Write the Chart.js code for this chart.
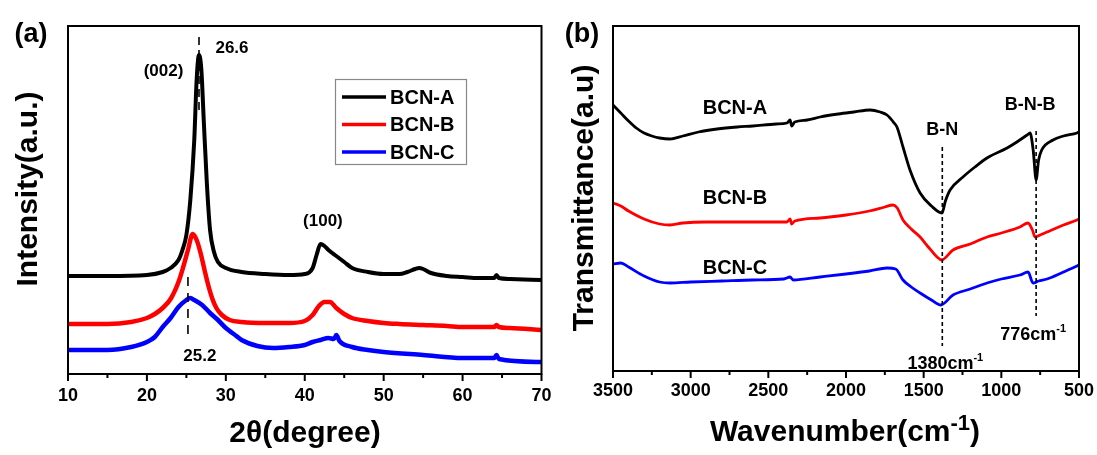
<!DOCTYPE html>
<html>
<head>
<meta charset="utf-8">
<script src="https://cdn.jsdelivr.net/npm/chart.js@4.4.1/dist/chart.umd.min.js"></script>
<style>
  html, body { margin: 0; padding: 0; background: #fff; }
  #wrap { position: relative; width: 1097px; height: 455px; overflow: hidden; }
  canvas { position: absolute; top: 0; }
</style>
</head>
<body>
<div id="wrap">
  <canvas id="xrd" width="560" height="455" style="left:0px"></canvas>
  <canvas id="ftir" width="549" height="455" style="left:548px"></canvas>
</div>
<script>
// ---------- XRD patterns, 2θ (degree) vs intensity (a.u.) ----------
const xrdA_theta = [10, 15, 20, 22, 23, 24, 24.5, 25, 25.5, 26, 26.3, 26.6, 26.9, 27.2, 27.6, 28, 28.5, 29, 30, 32, 35, 38, 40, 41, 41.5, 42, 42.5, 43, 44, 45, 46, 48, 50, 52, 53, 54, 54.5, 55, 56, 58, 60, 62, 64, 64.3, 64.6, 66, 70];
const xrdA_int   = [98, 98, 99, 102, 106, 114, 124, 139, 174, 234, 294, 319, 304, 254, 190, 144, 122, 112, 106, 102, 100, 99, 100, 106, 119, 130, 128, 124, 118, 112, 106, 102, 100, 100, 102, 105, 106, 105, 101, 98, 97, 96, 96, 99, 96, 95, 94];

const xrdB_theta = [10, 15, 18, 20, 21, 22, 23, 24, 24.6, 25.2, 25.8, 26.3, 26.8, 27.3, 27.8, 28.3, 28.8, 29.5, 30.5, 32, 35, 38, 40, 41, 41.8, 42.5, 43.2, 44, 45, 46, 48, 50, 52, 55, 58, 60, 64, 64.3, 64.6, 66, 70];
const xrdB_int   = [50, 50, 52, 56, 60, 66, 75, 92, 107, 124, 140, 134, 121, 104, 88, 75, 66, 59, 54, 52, 51, 51, 53, 59, 68, 72, 72, 66, 60, 56, 53, 51, 50, 49, 48, 47, 47, 49, 47, 46, 44];

const xrdC_theta = [10, 15, 18, 20, 21, 22, 23, 24, 25, 25.5, 26, 27, 28, 29, 30, 31, 32, 34, 36, 38, 40, 41, 42, 43, 43.7, 44, 44.4, 46, 48, 50, 55, 60, 64, 64.3, 64.6, 70];
const xrdC_int   = [24, 24, 27, 32, 37, 47, 56, 67, 74, 76, 74, 69, 61, 54, 46, 40, 34, 28, 26, 27, 29, 32, 34, 36, 35, 39, 33, 27, 24, 22, 19, 16, 16, 19, 15, 12];

const xrdTicks      = [10, 20, 30, 40, 50, 60, 70];
const xrdMinorTicks = [15, 25, 35, 45, 55, 65];
const peak002_A = 26.6;   // (002) position for BCN-A
const peak002_C = 25.2;   // (002) position for BCN-C

// ---------- FTIR spectra, wavenumber (cm-1) vs transmittance (a.u.) ----------
const ftirA_wn = [3500, 3450, 3400, 3350, 3300, 3250, 3200, 3133, 3050, 2950, 2830, 2700, 2600, 2450, 2380, 2360, 2350, 2330, 2250, 2167, 2050, 1950, 1845, 1780, 1736, 1690, 1672, 1633, 1588, 1523, 1450, 1382, 1360, 1330, 1247, 1170, 1092, 963, 900, 834, 815, 795, 776, 760, 740, 667, 600, 513, 500];
const ftirA_tr = [266, 258, 250, 243, 238, 235, 233, 232, 235, 239, 242, 244, 245, 247, 248, 251, 245, 249, 251, 254, 257, 259, 261, 259, 256, 248, 244, 224, 201, 178, 165, 158, 170, 181, 194, 204, 213, 223, 229, 236, 238, 221, 191, 211, 221, 231, 235, 238, 239];

const ftirB_wn = [3500, 3450, 3400, 3300, 3200, 3133, 3050, 2900, 2700, 2500, 2380, 2360, 2350, 2330, 2167, 2000, 1850, 1750, 1697, 1670, 1633, 1580, 1523, 1470, 1414, 1385, 1311, 1200, 1092, 1000, 880, 828, 800, 783, 750, 706, 600, 513, 500];
const ftirB_tr = [168, 165, 160, 152, 147, 146, 148, 149, 149, 149, 149, 152, 147, 150, 153, 156, 160, 164, 166, 163, 151, 142, 134, 124, 114, 111, 121, 127, 134, 138, 144, 148, 141, 134, 136, 139, 146, 151, 152];

const ftirC_wn = [3500, 3450, 3400, 3300, 3200, 3133, 3000, 2800, 2600, 2400, 2360, 2340, 2167, 2000, 1850, 1736, 1680, 1633, 1580, 1523, 1450, 1390, 1311, 1200, 1092, 1000, 880, 828, 796, 760, 706, 600, 513, 500];
const ftirC_tr = [107, 108, 104, 95, 89, 88, 89, 90, 91, 92, 94, 91, 94, 97, 100, 103, 102, 91, 84, 78, 71, 66, 76, 82, 88, 92, 96, 99, 88, 90, 92, 99, 105, 106];

const ftirTicks      = [3500, 3000, 2500, 2000, 1500, 1000, 500];
const ftirMinorTicks = [3250, 2750, 2250, 1750, 1250, 750];
const bandBN  = 1380;     // B-N stretching
const bandBNB = 776;      // B-N-B bending

const seriesNames  = ['BCN-A', 'BCN-B', 'BCN-C'];
const seriesColors = ['#000000', '#ff0000', '#0000ff'];

const FONT = '"Liberation Sans", Arial, sans-serif';

function pairs(xs, ys) { return xs.map((v, i) => ({ x: v, y: ys[i] })); }

function text(ctx, str, x, y, size, align, baseline) {
  ctx.font = 'bold ' + size + 'px ' + FONT;
  ctx.textAlign = align || 'center';
  ctx.textBaseline = baseline || 'alphabetic';
  ctx.fillStyle = '#000';
  ctx.fillText(str, x, y);
}

// text followed by a raised "-1"
function textWithSup(ctx, main, sup, tail, cx, y, size, supSize, supRise) {
  ctx.font = 'bold ' + size + 'px ' + FONT;
  const w1 = ctx.measureText(main).width;
  const w3 = tail ? ctx.measureText(tail).width : 0;
  ctx.font = 'bold ' + supSize + 'px ' + FONT;
  const w2 = ctx.measureText(sup).width;
  let x = cx - (w1 + w2 + w3) / 2;
  ctx.fillStyle = '#000';
  ctx.textAlign = 'left';
  ctx.textBaseline = 'alphabetic';
  ctx.font = 'bold ' + size + 'px ' + FONT;
  ctx.fillText(main, x, y);
  ctx.font = 'bold ' + supSize + 'px ' + FONT;
  ctx.fillText(sup, x + w1, y - supRise);
  if (tail) {
    ctx.font = 'bold ' + size + 'px ' + FONT;
    ctx.fillText(tail, x + w1 + w2, y);
  }
}

function vDash(ctx, x, y0, y1, dash, width) {
  ctx.save();
  ctx.strokeStyle = '#000';
  ctx.lineWidth = width;
  ctx.setLineDash(dash);
  ctx.beginPath();
  ctx.moveTo(x, y0);
  ctx.lineTo(x, y1);
  ctx.stroke();
  ctx.restore();
}

// frame around the plot and outward tick marks on the bottom axis
function drawFrame(chart, major, minor) {
  const { ctx, chartArea: a, scales: { x } } = chart;
  ctx.save();
  ctx.strokeStyle = '#000';
  ctx.lineWidth = 2;
  ctx.strokeRect(a.left, a.top, a.right - a.left, a.bottom - a.top);
  ctx.beginPath();
  major.forEach(v => { const p = x.getPixelForValue(v); ctx.moveTo(p, a.bottom); ctx.lineTo(p, a.bottom + 7); });
  minor.forEach(v => { const p = x.getPixelForValue(v); ctx.moveTo(p, a.bottom); ctx.lineTo(p, a.bottom + 4); });
  ctx.stroke();
  ctx.restore();
}

function fixedTicks(list) {
  return function (scale) { scale.ticks = list.map(v => ({ value: v })); };
}

const xrdDecor = {
  id: 'xrdDecor',
  afterDatasetsDraw(chart) {
    const { ctx, chartArea: a, scales: { x } } = chart;
    const pA = x.getPixelForValue(peak002_A);
    const pC = x.getPixelForValue(peak002_C);
    vDash(ctx, pA, a.top + 11, a.top + 84, [8, 5], 1.6);
    vDash(ctx, pC, a.top + 251, a.top + 312, [9, 7], 1.6);
    text(ctx, peak002_A.toFixed(1), pA + 33, a.top + 27, 17);
    text(ctx, '(002)', x.getPixelForValue(22.1), a.top + 50, 17);
    text(ctx, peak002_C.toFixed(1), x.getPixelForValue(26.7), a.top + 335, 17);
    text(ctx, '(100)', x.getPixelForValue(42.3), a.top + 200, 17);

    // legend box
    ctx.save();
    ctx.fillStyle = '#fff';
    ctx.fillRect(335, 79, 131, 85);
    ctx.strokeStyle = '#888';
    ctx.lineWidth = 1.2;
    ctx.strokeRect(335.5, 79.5, 131, 85);
    chart.data.datasets.forEach((ds, i) => {
      const cy = 97 + i * 27.5;
      ctx.strokeStyle = ds.borderColor;
      ctx.lineWidth = 3.5;
      ctx.beginPath();
      ctx.moveTo(342, cy);
      ctx.lineTo(386, cy);
      ctx.stroke();
      text(ctx, ds.label, 390, cy + 1, 20, 'left', 'middle');
    });
    ctx.restore();

    // axis titles and panel label
    text(ctx, '2θ(degree)', 305, 442, 30);
    ctx.save();
    ctx.translate(37, 189);
    ctx.rotate(-Math.PI / 2);
    text(ctx, 'Intensity(a.u.)', 0, 0, 30);
    ctx.restore();
    text(ctx, '(a)', 31, 42, 27);
  },
  afterDraw(chart) { drawFrame(chart, xrdTicks, xrdMinorTicks); }
};

const ftirDecor = {
  id: 'ftirDecor',
  afterDatasetsDraw(chart) {
    const { ctx, chartArea: a, scales: { x } } = chart;
    const pBN = x.getPixelForValue(bandBN);
    const pBNB = x.getPixelForValue(bandBNB);
    vDash(ctx, pBN, a.top + 121, a.top + 320, [4, 3], 1.6);
    vDash(ctx, pBNB, a.top + 105, a.top + 290, [4, 3], 1.6);

    const lx = x.getPixelForValue(2715);
    text(ctx, seriesNames[0], lx, a.top + 88, 20);
    text(ctx, seriesNames[1], lx, a.top + 178, 20);
    text(ctx, seriesNames[2], lx, a.top + 248, 20);
    text(ctx, 'B-N', pBN, a.top + 109, 18);
    text(ctx, 'B-N-B', pBNB - 6, a.top + 84, 18);
    textWithSup(ctx, bandBN + 'cm', '-1', '', pBN + 3, a.top + 343, 18, 11, 8);
    textWithSup(ctx, bandBNB + 'cm', '-1', '', pBNB - 3, a.top + 314, 18, 11, 8);

    // axis titles and panel label
    textWithSup(ctx, 'Wavenumber(cm', '-1', ')', 297, 441, 30, 22, 11);
    ctx.save();
    ctx.translate(45, 198);
    ctx.rotate(-Math.PI / 2);
    text(ctx, 'Transmittance(a.u)', 0, 0, 30);
    ctx.restore();
    text(ctx, '(b)', 34, 42, 27);
  },
  afterDraw(chart) { drawFrame(chart, ftirTicks, ftirMinorTicks); }
};

function lineSet(label, color, data, width) {
  return {
    label: label,
    data: data,
    borderColor: color,
    backgroundColor: color,
    borderWidth: width,
    pointRadius: 0,
    cubicInterpolationMode: 'monotone',
    fill: false
  };
}

function baseOptions(xMin, xMax, reverse, tickList, xHeight, yMax, pad, tickPad) {
  return {
    responsive: false,
    animation: false,
    devicePixelRatio: 1,
    layout: { padding: pad },
    plugins: { legend: { display: false }, tooltip: { enabled: false } },
    scales: {
      x: {
        type: 'linear',
        min: xMin, max: xMax, reverse: reverse,
        afterBuildTicks: fixedTicks(tickList),
        afterFit(scale) {
          scale.height = xHeight;
          scale.paddingLeft = 0;
          scale.paddingRight = 0;
        },
        grid: { display: false, drawTicks: false },
        border: { display: false },
        ticks: {
          autoSkip: false, maxRotation: 0, padding: tickPad,
          color: '#000',
          font: { family: FONT, size: 18, weight: 'bold' },
          callback: v => String(v)
        }
      },
      y: { display: false, min: 0, max: yMax }
    }
  };
}

new Chart(document.getElementById('xrd'), {
  type: 'line',
  data: {
    datasets: [
      lineSet(seriesNames[0], seriesColors[0], pairs(xrdA_theta, xrdA_int), 4),
      lineSet(seriesNames[1], seriesColors[1], pairs(xrdB_theta, xrdB_int), 4.5),
      lineSet(seriesNames[2], seriesColors[2], pairs(xrdC_theta, xrdC_int), 4.5)
    ]
  },
  options: baseOptions(10, 70, false, xrdTicks, 81, 348, { left: 68, right: 18.5, top: 26, bottom: 0 }, 11),
  plugins: [xrdDecor]
});

new Chart(document.getElementById('ftir'), {
  type: 'line',
  data: {
    datasets: [
      lineSet(seriesNames[0], seriesColors[0], pairs(ftirA_wn, ftirA_tr), 2.8),
      lineSet(seriesNames[1], seriesColors[1], pairs(ftirB_wn, ftirB_tr), 2.8),
      lineSet(seriesNames[2], seriesColors[2], pairs(ftirC_wn, ftirC_tr), 2.8)
    ]
  },
  options: baseOptions(500, 3500, true, ftirTicks, 84, 345, { left: 65, right: 18, top: 26, bottom: 0 }, 9),
  plugins: [ftirDecor]
});
</script>
</body>
</html>
